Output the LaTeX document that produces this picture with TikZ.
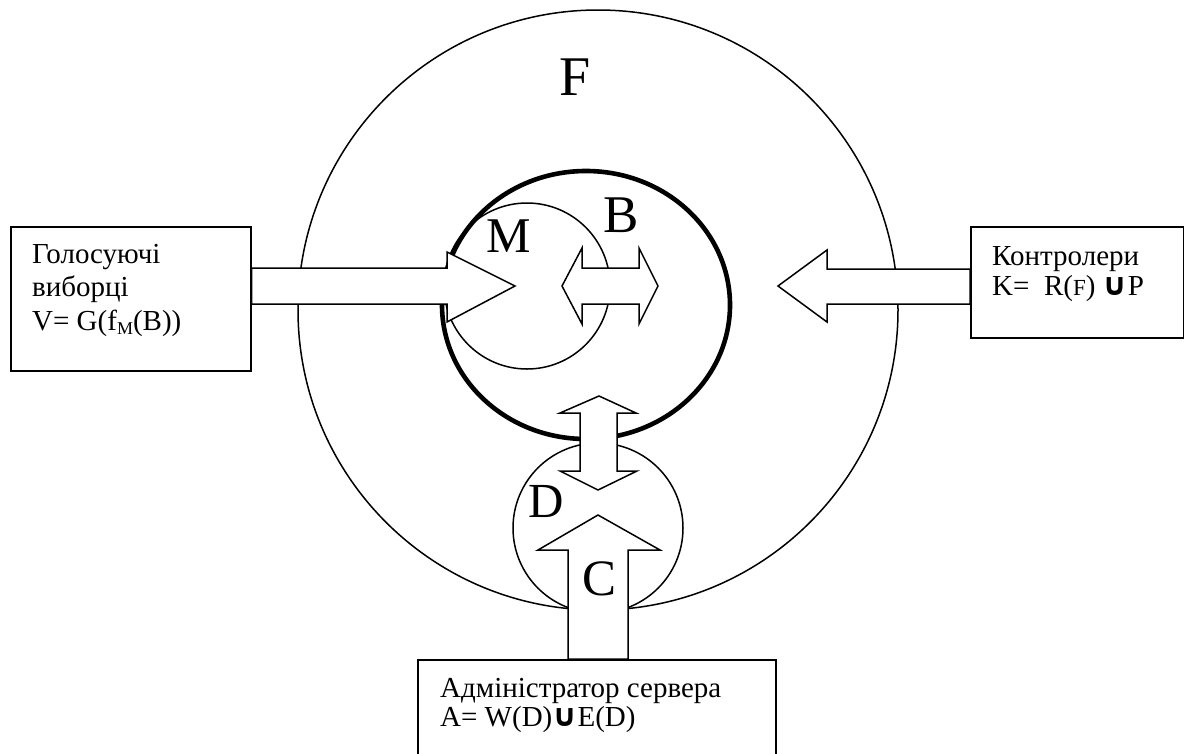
\documentclass[tikz,border=0pt]{standalone}
\usepackage{fontspec}
\setmainfont{Liberation Serif}
\newfontfamily\unifont{DejaVu Sans}
\newcommand{\myunion}{{\unifont\bfseries\fontsize{31}{31}\selectfont ∪}}
\begin{document}
\begin{tikzpicture}[x=1pt,y=-1pt,
  thinline/.style={line width=1.5pt, line join=miter},
  thickline/.style={line width=4.6pt},
  blockarrow/.style={thinline, fill=white},
  boxnode/.style={draw, line width=1.5pt, inner sep=0pt, anchor=north west},
  txt/.style={inner sep=0pt, anchor=base west, font=\fontsize{29}{34}\selectfont},
  big/.style={inner sep=0pt}
]
\useasboundingbox (0,0) rectangle (1184,753);
\clip (0,0) rectangle (1184,753);
\fill[white] (0,0) rectangle (1184,753);

% circles
\coordinate (Fc) at (598,310);
\coordinate (Bc) at (586,305);
\coordinate (Mc) at (527,286);
\coordinate (Dc) at (598,528);
\draw[thinline] (Fc) circle [radius=300pt];
\draw[thickline] (Bc) ellipse [x radius=144pt, y radius=134pt];
\draw[thinline] (Mc) circle [radius=83pt];
\draw[thinline] (Dc) circle [radius=85pt];

% boxes
\node[boxnode, minimum width=240pt, minimum height=144pt] (Vbox) at (10,226) {};
\node[boxnode, minimum width=213pt, minimum height=111pt] (Kbox) at (970,226) {};
\node[boxnode, minimum width=358pt, minimum height=120pt] (Abox) at (417,659) {};

% block arrows
\draw[blockarrow] (Vbox.east |- 0,268) -- (447,268) -- (447,252) -- (515,286) -- (447,322) -- (447,304) -- (Vbox.east |- 0,304) -- cycle;
\draw[blockarrow] (Kbox.west |- 0,269) -- (827,269) -- (827,250) -- (778,286) -- (827,322) -- (827,304) -- (Kbox.west |- 0,304) -- cycle;
\draw[blockarrow] (582,268) -- (582,248) -- (562,286) -- (582,324) -- (582,304) -- (639,304) -- (639,324) -- (658,286) -- (639,248) -- (639,268) -- cycle;
\draw[blockarrow] (580,413) -- (560,413) -- (599,396) -- (636,413) -- (617,413) -- (617,471) -- (637,471) -- (598,490) -- (560,471) -- (580,471) -- cycle;
\draw[blockarrow] (568,0 |- Abox.north) -- (568,550) -- (538,550) -- (598,515) -- (660,550) -- (628,550) -- (628,0 |- Abox.north) -- cycle;

% big labels
\node[big, font=\fontsize{56}{56}\selectfont] (Flab) at (575,77) {F};
\node[big, font=\fontsize{50}{50}\selectfont] (Mlab) at (509,236) {M};
\node[big, font=\fontsize{53}{53}\selectfont] (Blab) at (621,215) {B};
\node[big, font=\fontsize{49}{49}\selectfont] (Dlab) at (546,501) {D};
\node[big, font=\fontsize{51}{51}\selectfont] (Clab) at (600,579) {C};

% texts
\node[txt] (v1) at (32,263) {Голосуючі};
\node[txt] (v2) at (32,296) {виборці};
\node[txt] (v3) at (32,330) {V= G(f\raisebox{-0.15em}{\fontsize{18}{18}\selectfont M}(B))};
\node[txt] (k1) at (992,265) {Контролери};
\node[txt] (k2) at (992,295) {K=\ \ R({\fontsize{23}{23}\selectfont F}) \myunion P};
\node[txt] (a1) at (440,697) {Адміністратор сервера};
\node[txt] (a2) at (440,726) {A= W(D)\myunion E(D)};
\end{tikzpicture}
\end{document}
